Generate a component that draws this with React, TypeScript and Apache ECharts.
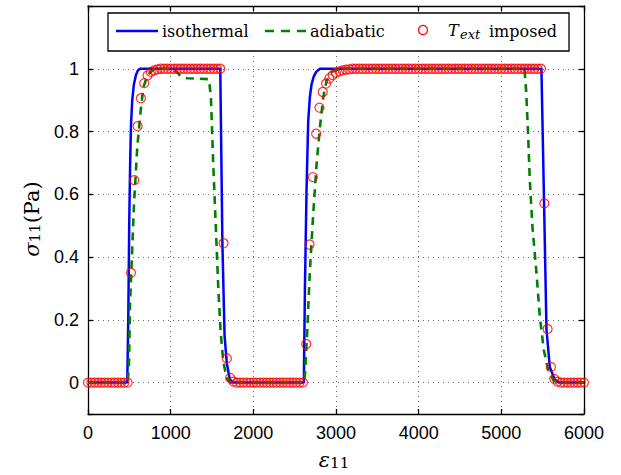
import React, { useEffect, useRef } from 'react';
import * as echarts from 'echarts';

// x tick values for the strain axis
const strainTicks = [0, 1000, 2000, 3000, 4000, 5000, 6000];

// isothermal curve (blue, solid)
const isothermalX = [0, 475, 487, 499, 510, 520, 535, 555, 580, 605, 629, 1600, 1626, 1652, 1680, 1716, 1760, 2611, 2624, 2644, 2664, 2684, 2704, 2730, 2760, 2805, 5485, 5517, 5546, 5586, 5646, 5700, 6000];
const isothermalY = [0, 0, 0.2, 0.515, 0.7, 0.82, 0.9, 0.95, 0.98, 0.995, 1, 1, 0.44, 0.15, 0.06, 0.01, 0, 0, 0.3, 0.62, 0.834, 0.91, 0.95, 0.975, 0.99, 1, 1, 0.57, 0.17, 0.05, 0.01, 0, 0];

// adiabatic curve (green, dashed)
const adiabaticX = [0, 480, 496, 508, 516, 556, 596, 637, 669, 720, 800, 950, 1050, 1110, 1200, 1460, 1470, 1487, 1515, 1543, 1576, 1604, 1636, 1677, 1720, 2615, 2623, 2652, 2684, 2724, 2765, 2805, 2845, 2886, 2950, 3050, 5280, 5300, 5323, 5344, 5376, 5425, 5465, 5513, 5565, 5626, 5680, 6000];
const adiabaticY = [0, 0, 0.06, 0.25, 0.3, 0.567, 0.75, 0.866, 0.94, 0.98, 1, 1, 0.995, 0.98, 0.97, 0.967, 0.95, 0.908, 0.696, 0.515, 0.302, 0.163, 0.068, 0.015, 0, 0, 0.02, 0.164, 0.355, 0.536, 0.696, 0.812, 0.908, 0.961, 0.99, 1, 1, 0.93, 0.796, 0.647, 0.498, 0.35, 0.212, 0.105, 0.041, 0.009, 0, 0];

// T_ext imposed (red circles)
const imposedX = [0, 40, 80, 120, 160, 200, 240, 280, 320, 360, 400, 440, 480, 520, 560, 600, 640, 680, 720, 760, 800, 840, 880, 920, 960, 1000, 1040, 1080, 1120, 1160, 1200, 1240, 1280, 1320, 1360, 1400, 1440, 1480, 1520, 1560, 1600, 1640, 1680, 1720, 1760, 1800, 1840, 1880, 1920, 1960, 2000, 2040, 2080, 2120, 2160, 2200, 2240, 2280, 2320, 2360, 2400, 2440, 2480, 2520, 2560, 2600, 2640, 2680, 2720, 2760, 2800, 2840, 2880, 2920, 2960, 3000, 3040, 3080, 3120, 3160, 3200, 3240, 3280, 3320, 3360, 3400, 3440, 3480, 3520, 3560, 3600, 3640, 3680, 3720, 3760, 3800, 3840, 3880, 3920, 3960, 4000, 4040, 4080, 4120, 4160, 4200, 4240, 4280, 4320, 4360, 4400, 4440, 4480, 4520, 4560, 4600, 4640, 4680, 4720, 4760, 4800, 4840, 4880, 4920, 4960, 5000, 5040, 5080, 5120, 5160, 5200, 5240, 5280, 5320, 5360, 5400, 5440, 5480, 5520, 5560, 5600, 5640, 5680, 5720, 5760, 5800, 5840, 5880, 5920, 5960, 6000];
const imposedY = [
  0, 0, 0, 0, 0, 0, 0, 0, 0, 0, 0, 0, 0,
  0.35, 0.645, 0.817, 0.906, 0.954, 0.979, 0.99, 0.995, 0.998,
  1, 1, 1, 1, 1, 1, 1, 1, 1, 1, 1, 1, 1, 1, 1, 1, 1, 1, 1,
  0.444, 0.077, 0.015, 0.003,
  0, 0, 0, 0, 0, 0, 0, 0, 0, 0, 0, 0, 0, 0, 0, 0, 0, 0, 0, 0, 0,
  0.123, 0.44, 0.655, 0.793, 0.876, 0.926, 0.953, 0.969, 0.98, 0.987, 0.992, 0.995, 0.997, 0.998,
  1, 1, 1, 1, 1, 1, 1, 1, 1, 1, 1, 1, 1, 1, 1, 1, 1, 1, 1, 1, 1, 1, 1, 1, 1, 1, 1, 1, 1, 1,
  1, 1, 1, 1, 1, 1, 1, 1, 1, 1, 1, 1, 1, 1, 1, 1, 1, 1, 1, 1, 1, 1, 1, 1, 1, 1, 1, 1,
  0.571, 0.171, 0.05, 0.012, 0.003,
  0, 0, 0, 0, 0, 0, 0, 0,
];

const seriesNames = ['isothermal', 'adiabatic', 'T_ext imposed'];

function zip(xs: number[], ys: number[]) {
  return xs.map((x, i) => [x, ys[i]]);
}

export default function App() {
  const ref = useRef<HTMLDivElement>(null);
  useEffect(() => {
    const chart = echarts.init(ref.current!, null, { renderer: 'svg' });
    const serif = 'DejaVu Serif';
    const sans = 'Liberation Sans';
    const blue = '#0000ff';
    const green = '#008000';
    const red = '#ff0000';
    const frame = { color: '#000', width: 1.3 };
    const grid = { left: 88, right: 37, top: 6, bottom: 61 };
    const dotted = { type: [1, 4] as any, color: '#666', width: 1 };
    const lt = (x: number, y: number, text: string, extra: any = {}) => ({
      type: 'text', x, y, z: 101,
      style: { text, fontFamily: serif, fontSize: 16, fill: '#000', verticalAlign: 'middle', ...extra },
    });
    const option: any = {
      animation: false,
      backgroundColor: '#fff',
      grid,
      xAxis: [
        {
          type: 'value', min: strainTicks[0], max: strainTicks[strainTicks.length - 1], interval: 1000, position: 'bottom',
          axisLine: { show: true, onZero: false, lineStyle: frame },
          axisTick: { show: true, inside: true, length: 5, lineStyle: frame },
          axisLabel: { color: '#000', fontFamily: sans, fontSize: 18, margin: 10, formatter: (v: number) => String(v) },
          splitLine: { show: true, lineStyle: dotted },
        },
        {
          type: 'value', min: strainTicks[0], max: strainTicks[strainTicks.length - 1], interval: 1000, position: 'top',
          axisLine: { show: true, onZero: false, lineStyle: frame },
          axisTick: { show: true, inside: true, length: 5, lineStyle: frame },
          axisLabel: { show: false },
          splitLine: { show: false },
        },
      ],
      yAxis: [
        {
          type: 'value', min: -0.1, max: 1.2, splitNumber: 7, position: 'left',
          axisLine: { show: true, onZero: false, lineStyle: frame },
          axisTick: { show: true, inside: true, length: 5, lineStyle: frame },
          axisLabel: {
            color: '#000', fontFamily: sans, fontSize: 18, margin: 9,
            formatter: (v: number) => (v < -0.001 || v > 1.001 ? '' : String(Math.round(v * 10) / 10)),
          },
          splitLine: { show: true, lineStyle: dotted },
        },
        {
          type: 'value', min: -0.1, max: 1.2, splitNumber: 7, position: 'right',
          axisLine: { show: true, onZero: false, lineStyle: frame },
          axisTick: { show: true, inside: true, length: 5, lineStyle: frame },
          axisLabel: { show: false },
          splitLine: { show: false },
        },
      ],
      series: [
        {
          name: seriesNames[0], type: 'line', data: zip(isothermalX, isothermalY), symbol: 'none',
          lineStyle: { color: blue, width: 2.5 }, itemStyle: { color: blue }, z: 2,
        },
        {
          name: seriesNames[1], type: 'line', data: zip(adiabaticX, adiabaticY), symbol: 'none',
          lineStyle: { color: green, width: 2.6, type: [8, 6] }, itemStyle: { color: green }, z: 3,
        },
        {
          name: seriesNames[2], type: 'scatter', data: zip(imposedX, imposedY), symbol: 'circle', symbolSize: 9,
          itemStyle: { color: 'rgba(255,255,255,0)', borderColor: red, borderWidth: 1.2 }, clip: false, z: 4,
        },
      ],
      graphic: [
        // legend box
        { type: 'rect', z: 100, shape: { x: 108, y: 13, width: 461, height: 38 }, style: { fill: '#fff', stroke: '#000', lineWidth: 1.3 } },
        { type: 'line', z: 101, shape: { x1: 116, y1: 31, x2: 158, y2: 31 }, style: { stroke: blue, lineWidth: 2.5 } },
        lt(162, 31.5, seriesNames[0]),
        { type: 'line', z: 101, shape: { x1: 265, y1: 31, x2: 307, y2: 31 }, style: { stroke: green, lineWidth: 2.6, lineDash: [9, 7] } },
        lt(310, 31.5, seriesNames[1]),
        { type: 'circle', z: 101, shape: { cx: 423, cy: 30, r: 4.5 }, style: { fill: 'none', stroke: red, lineWidth: 1.2 } },
        lt(448, 30.5, 'T', { fontStyle: 'italic' }),
        lt(460, 34, 'ext', { fontStyle: 'italic', fontSize: 13 }),
        lt(489, 31.5, 'imposed'),
        // axis titles
        {
          type: 'text', x: 334, y: 458,
          style: {
            text: '{a|ε}{b|11}', align: 'center', verticalAlign: 'middle',
            rich: {
              a: { fontFamily: serif, fontStyle: 'italic', fontSize: 21, lineHeight: 24, verticalAlign: 'bottom', fill: '#000' },
              b: { fontFamily: serif, fontSize: 15, lineHeight: 15, verticalAlign: 'bottom', fill: '#000' },
            },
          },
        },
        {
          type: 'text', x: 30, y: 219, rotation: Math.PI / 2,
          style: {
            text: '{a|σ}{b|11}{c|(Pa)}', align: 'center', verticalAlign: 'middle',
            rich: {
              a: { fontFamily: serif, fontStyle: 'italic', fontSize: 21, lineHeight: 24, verticalAlign: 'bottom', fill: '#000' },
              b: { fontFamily: serif, fontSize: 15, lineHeight: 15, verticalAlign: 'bottom', fill: '#000' },
              c: { fontFamily: serif, fontSize: 21, lineHeight: 24, verticalAlign: 'bottom', fill: '#000' },
            },
          },
        },
      ],
    };
    chart.setOption(option);
    return () => chart.dispose();
  }, []);
  return <div ref={ref} style={{ position: 'absolute', left: 0, top: 0, width: 621, height: 475 }} />;
}
